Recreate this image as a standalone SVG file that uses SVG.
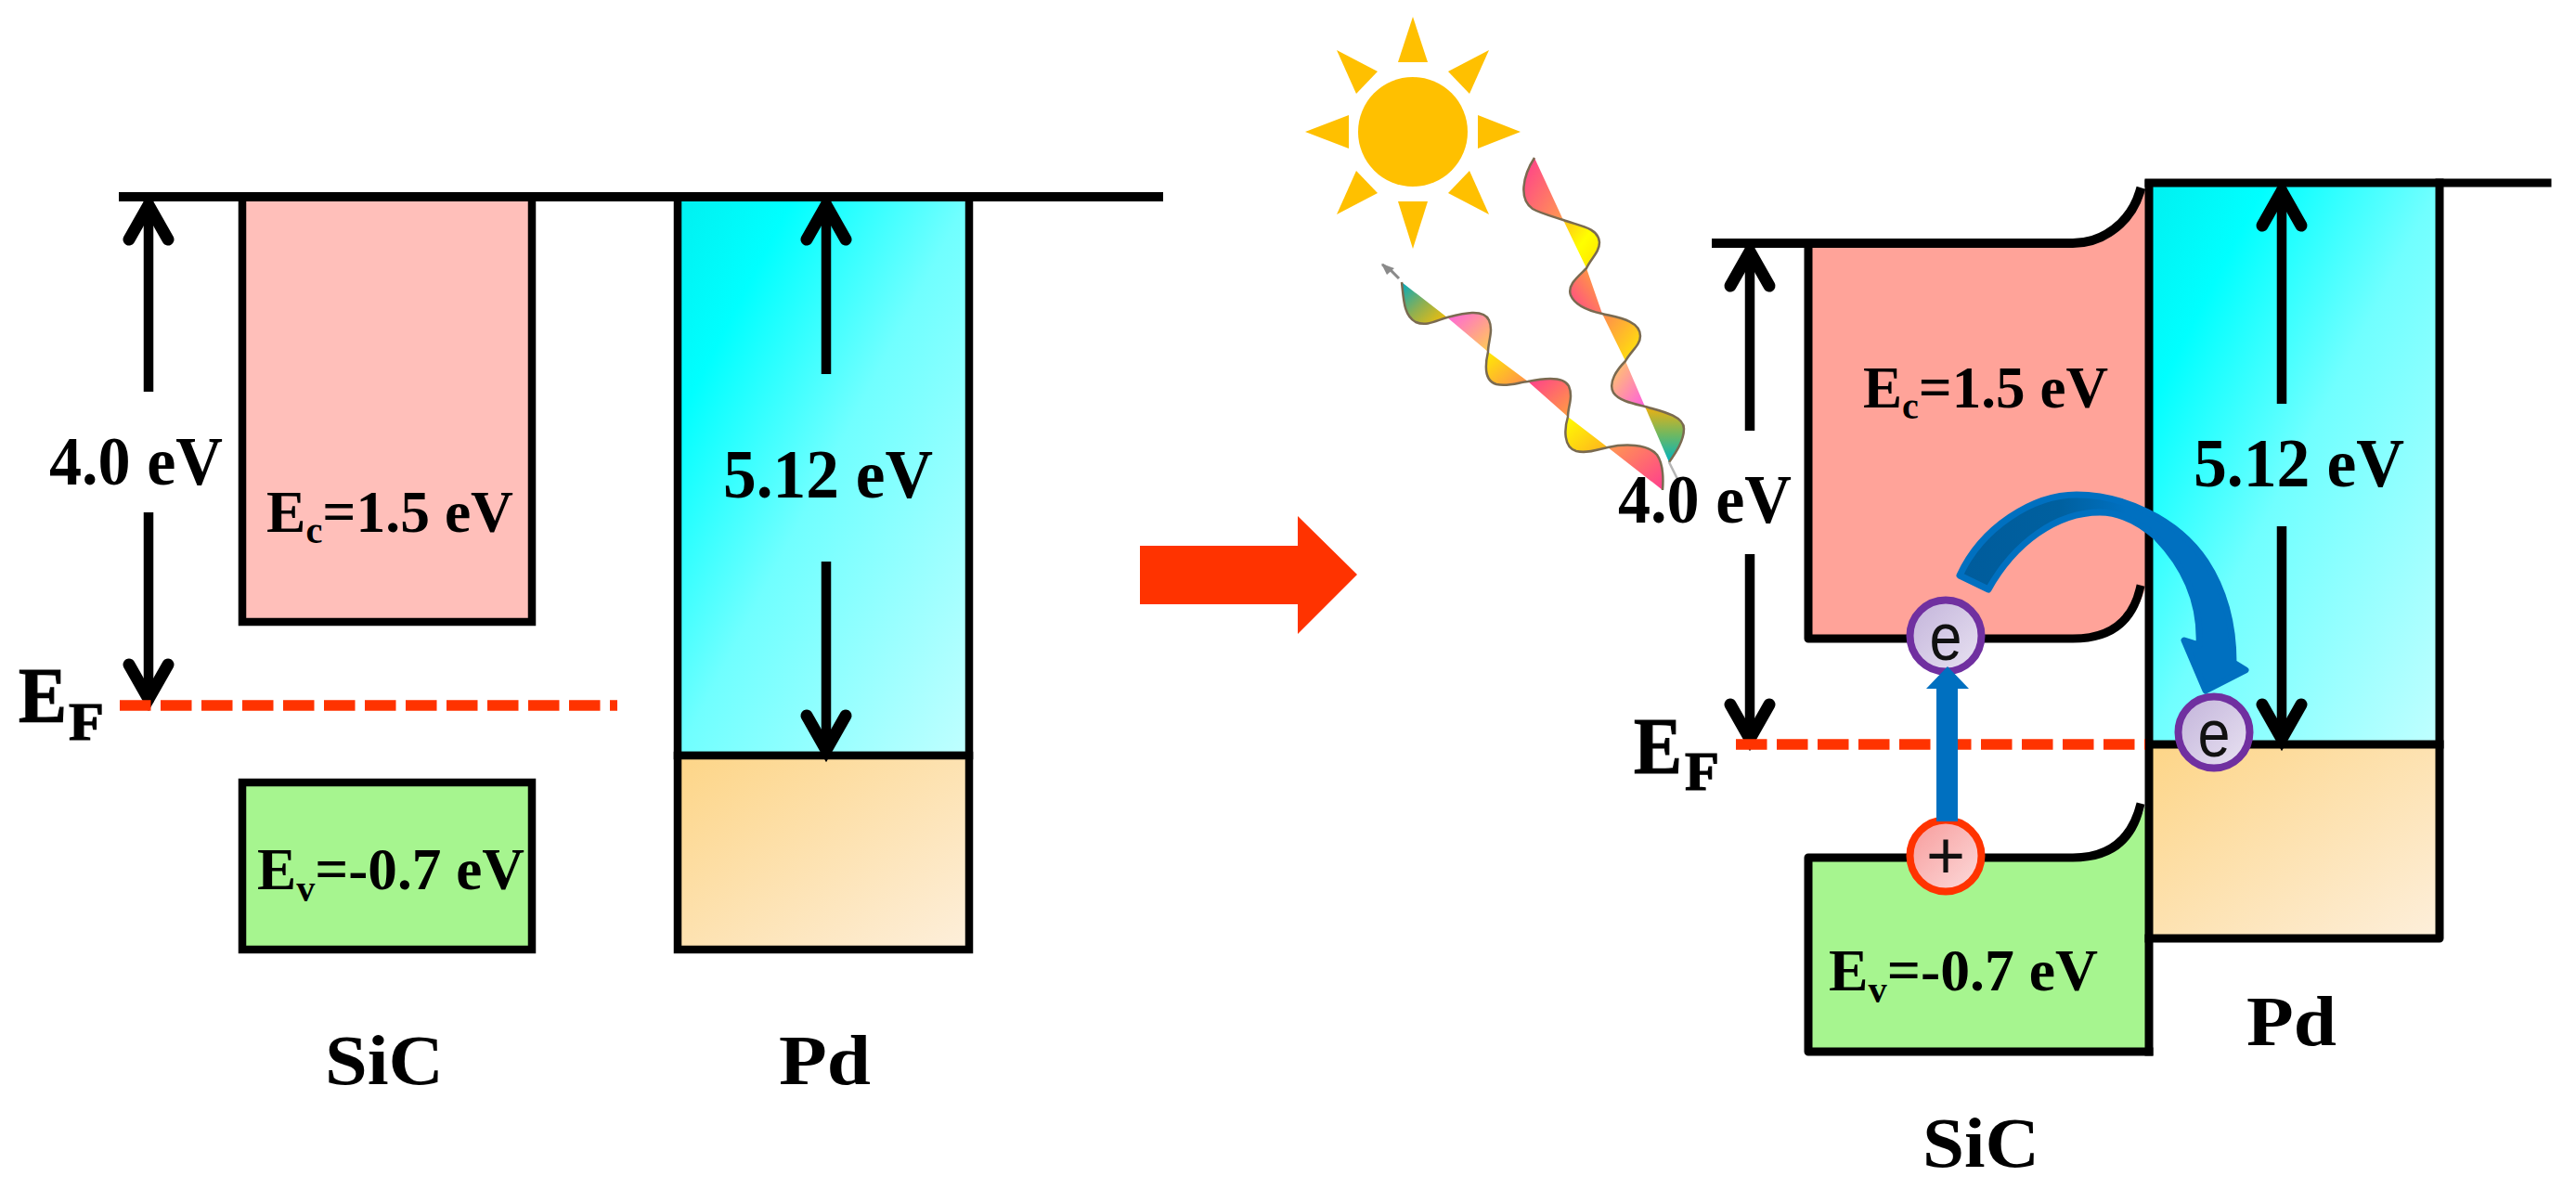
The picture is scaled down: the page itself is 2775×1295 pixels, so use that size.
<svg xmlns="http://www.w3.org/2000/svg" width="2775" height="1295" viewBox="0 0 2775 1295">
<style>
.b{stroke:#000;stroke-width:9;fill:none;stroke-linejoin:round;stroke-linecap:square}
.t{font-family:"Liberation Serif","Times New Roman",serif;font-weight:bold;fill:#000}
.ef{stroke:#000;stroke-width:1.2}
.c{font-family:"Liberation Sans",Arial,sans-serif;font-size:72px;fill:#111;text-anchor:middle}
.arr{stroke:#000;stroke-width:10.5;fill:none;marker-end:url(#v)}
.dash{stroke:#ff3300;stroke-width:11.5;fill:none;stroke-dasharray:33.5 10.5}
.sun{fill:#ffc000}
.ol{fill:none;stroke:#7a6a50;stroke-width:2.5}
</style>
<defs>
<marker id="v" markerUnits="userSpaceOnUse" markerWidth="70" markerHeight="70" viewBox="-50 -35 70 70" refX="0" refY="0" orient="auto">
<path d="M-41,-21 L-4,0 L-41,21" fill="none" stroke="#000" stroke-width="13" stroke-linecap="round" stroke-linejoin="miter"/>
</marker>
<linearGradient id="cy" x1="0" y1="0" x2="1" y2="1"><stop offset="0" stop-color="#00f0f0"/><stop offset=".2" stop-color="#00ffff"/><stop offset=".5" stop-color="#70ffff"/><stop offset="1" stop-color="#c0ffff"/></linearGradient>
<linearGradient id="or" x1="0" y1="0" x2="1" y2="1"><stop offset="0" stop-color="#fdd587"/><stop offset="1" stop-color="#fdefdb"/></linearGradient>
<linearGradient id="ce" x1="0" y1="0" x2="1" y2="1"><stop offset="0" stop-color="#c2b3da"/><stop offset="1" stop-color="#e9e3f2"/></linearGradient>
<linearGradient id="ch" x1="0" y1="0" x2="1" y2="1"><stop offset="0" stop-color="#f79a9a"/><stop offset="1" stop-color="#fcdcdc"/></linearGradient>
<linearGradient id="ba" gradientUnits="userSpaceOnUse" x1="2110" y1="0" x2="2290" y2="0"><stop offset="0" stop-color="#005c9c"/><stop offset=".6" stop-color="#00609f"/><stop offset="1" stop-color="#0070c0"/></linearGradient>
<linearGradient id="g1" x1="0" y1="0" x2="1" y2="1"><stop offset="0" stop-color="#ff3d8e"/><stop offset="1" stop-color="#ff9a50"/></linearGradient>
<linearGradient id="g2" x1="0" y1="0" x2="1" y2="1"><stop offset="0" stop-color="#ffc21a"/><stop offset=".5" stop-color="#ffff00"/><stop offset="1" stop-color="#ffe000"/></linearGradient>
<linearGradient id="g3" x1="1" y1="0" x2="0" y2="1"><stop offset="0" stop-color="#ffb030"/><stop offset="1" stop-color="#ff4090"/></linearGradient>
<linearGradient id="g4" x1="0" y1="0" x2="1" y2="1"><stop offset="0" stop-color="#ff8a50"/><stop offset="1" stop-color="#ffee00"/></linearGradient>
<linearGradient id="g5" x1="0" y1="0" x2="1" y2="1"><stop offset="0" stop-color="#ffd060"/><stop offset="1" stop-color="#ff5ee0"/></linearGradient>
<linearGradient id="g6" x1="0" y1="0" x2="0" y2="1"><stop offset="0" stop-color="#f0b010"/><stop offset=".5" stop-color="#70b860"/><stop offset="1" stop-color="#00b4c0"/></linearGradient>
<linearGradient id="g7" x1="0" y1="0" x2="1" y2="1"><stop offset="0" stop-color="#00aac0"/><stop offset=".5" stop-color="#90b050"/><stop offset="1" stop-color="#ffc000"/></linearGradient>
<linearGradient id="g8" x1="0" y1="0" x2="1" y2="1"><stop offset="0" stop-color="#ff60e0"/><stop offset="1" stop-color="#ffd050"/></linearGradient>
<linearGradient id="g9" x1="0" y1="0" x2="1" y2="1"><stop offset="0" stop-color="#ffee00"/><stop offset="1" stop-color="#ff8a50"/></linearGradient>
<linearGradient id="g10" x1="0" y1="0" x2="1" y2="1"><stop offset="0" stop-color="#ff3d8e"/><stop offset="1" stop-color="#ffa040"/></linearGradient>
<linearGradient id="g11" x1="0" y1="0" x2="1" y2="1"><stop offset="0" stop-color="#ffff00"/><stop offset="1" stop-color="#ffb020"/></linearGradient>
<linearGradient id="g12" x1="0" y1="0" x2="1" y2="1"><stop offset="0" stop-color="#ff9a50"/><stop offset="1" stop-color="#ff3d8e"/></linearGradient>
</defs>
<rect width="2775" height="1295" fill="#fff"/>

<g id="left-sic-conduction"><rect x="261" y="212" width="312" height="458" fill="#ffbfba" stroke="#000" stroke-width="8.5"/></g>
<g id="left-sic-valence"><rect x="261" y="843" width="312" height="180" fill="#a6f58f" stroke="#000" stroke-width="8.5"/></g>
<g id="left-pd">
<rect x="730" y="212" width="314" height="602" fill="url(#cy)" stroke="#000" stroke-width="8.5"/>
<rect x="730" y="814" width="314" height="209" fill="url(#or)" stroke="#000" stroke-width="8.5"/>
</g>
<g id="left-vacuum"><path d="M128,212H1253" stroke="#000" stroke-width="10" fill="none"/></g>

<g id="right-sic-conduction"><path d="M1948,262H2233C2268,262 2296,240 2311,205V633C2302,668 2275,688 2233,688H1948Z" fill="#ffa399"/></g>
<g id="right-sic-valence"><path d="M1948,924H2233C2275,924 2300,903 2311,868V1133H1948Z" fill="#a6f58f"/></g>
<g id="right-pd">
<rect x="2315" y="198" width="313" height="604" fill="url(#cy)"/>
<rect x="2315" y="802" width="313" height="209" fill="url(#or)"/>
</g>
<g id="right-outlines">
<path class="b" style="stroke-width:10" d="M1849,262H2233C2265,262 2295,240 2305,207"/>
<path class="b" d="M1948,262V688H2233C2275,688 2297,668 2305,635"/>
<path class="b" d="M2305,870C2297,903 2275,924 2233,924H1948V1133H2315"/>
<path class="b" d="M2315,198V1133"/>
<path class="b" d="M2315,197H2744"/>
<path class="b" d="M2628,197V1011H2315"/>
<path class="b" d="M2315,802H2628"/>
</g>

<g id="connectors">
<path class="arr" d="M160,422V217"/>
<path class="arr" d="M160,552V757"/>
<path class="arr" d="M890,403V217"/>
<path class="arr" d="M890,605V812"/>
<path class="arr" d="M1885,464V267"/>
<path class="arr" d="M1885,597V800"/>
<path class="arr" d="M2458,435V202"/>
<path class="arr" d="M2458,567V800"/>
<path class="dash" d="M129,760H665"/>
<path class="dash" d="M1870,802H2311"/>
<path id="red-arrow" d="M1228,588H1398V556L1462,619L1398,683V651H1228Z" fill="#ff3300"/>
</g>

<g id="sun" class="sun">
<circle cx="1522" cy="142" r="59"/>
<path d="M1522,18L1538,67H1506Z"/>
<path d="M1522,268L1538,217H1506Z"/>
<path d="M1406,142L1453,124V160Z"/>
<path d="M1638,142L1592,124V160Z"/>
<path d="M1440,54L1484,77L1461,101Z"/>
<path d="M1604,54L1560,77L1583,101Z"/>
<path d="M1440,231L1461,184L1484,208Z"/>
<path d="M1604,231L1583,184L1560,208Z"/>
</g>

<g id="wave-right">
<path fill="url(#g1)" d="M1653,170C1640,190 1636,215 1651,225C1660,230 1672,233 1684,237Z"/>
<path fill="url(#g2)" d="M1684,237C1700,243 1722,245 1723,261C1723,272 1714,278 1709,289Z"/>
<path fill="url(#g3)" d="M1709,289C1700,298 1688,307 1692,318C1697,330 1712,335 1726,338Z"/>
<path fill="url(#g4)" d="M1726,338C1742,342 1767,345 1767,362C1767,372 1757,378 1751,389Z"/>
<path fill="url(#g5)" d="M1751,389C1742,398 1732,412 1738,423C1744,432 1760,435 1772,438Z"/>
<path fill="url(#g6)" d="M1772,438C1790,443 1814,448 1814,462C1814,475 1805,488 1798,498Z"/>
<path class="ol" d="M1653,170C1640,190 1636,215 1651,225C1660,230 1672,233 1684,237C1700,243 1722,245 1723,261C1723,272 1714,278 1709,289C1700,298 1688,307 1692,318C1697,330 1712,335 1726,338C1742,342 1767,345 1767,362C1767,372 1757,378 1751,389C1742,398 1732,412 1738,423C1744,432 1760,435 1772,438C1790,443 1814,448 1814,462C1814,475 1805,488 1798,498"/>
<path d="M1798,498L1807,516" stroke="#b5b5b5" stroke-width="2.5" fill="none"/>
</g>
<g id="wave-left">
<path fill="url(#g7)" d="M1510,304C1512,322 1512,340 1525,347C1537,352 1548,345 1559,342Z"/>
<path fill="url(#g8)" d="M1559,342C1575,338 1598,332 1604,345C1609,356 1603,368 1603,379Z"/>
<path fill="url(#g9)" d="M1603,379C1600,392 1598,410 1612,414C1624,417 1636,412 1646,411Z"/>
<path fill="url(#g10)" d="M1646,411C1660,408 1684,404 1690,416C1695,428 1689,438 1689,449Z"/>
<path fill="url(#g11)" d="M1689,449C1685,462 1684,482 1698,486C1710,489 1722,484 1732,482Z"/>
<path fill="url(#g12)" d="M1732,482C1750,478 1775,478 1785,490C1792,500 1792,515 1791,528Z"/>
<path class="ol" d="M1510,304C1512,322 1512,340 1525,347C1537,352 1548,345 1559,342C1575,338 1598,332 1604,345C1609,356 1603,368 1603,379C1600,392 1598,410 1612,414C1624,417 1636,412 1646,411C1660,408 1684,404 1690,416C1695,428 1689,438 1689,449C1685,462 1684,482 1698,486C1710,489 1722,484 1732,482C1750,478 1775,478 1785,490C1792,500 1792,515 1791,528"/>
<path d="M1489,285L1498,291L1507,300" stroke="#8a8a8a" stroke-width="3" fill="none"/>
<path d="M1488,284L1502,289L1494,296Z" fill="#8a8a8a"/>
</g>

<g id="labels-left" class="t">
<text x="53" y="522" font-size="73" textLength="187" lengthAdjust="spacingAndGlyphs">4.0 eV</text>
<text x="287" y="573" font-size="63" textLength="266" lengthAdjust="spacingAndGlyphs">E<tspan font-size="40" dy="12">c</tspan><tspan dy="-12">=1.5 eV</tspan></text>
<text x="277" y="958" font-size="63" textLength="288" lengthAdjust="spacingAndGlyphs">E<tspan font-size="40" dy="13">v</tspan><tspan dy="-13">=-0.7 eV</tspan></text>
<text x="779" y="536" font-size="73" textLength="226" lengthAdjust="spacingAndGlyphs">5.12 eV</text>
<text class="ef" x="20" y="778" font-size="85" textLength="52" lengthAdjust="spacingAndGlyphs">E</text>
<text class="ef" x="74" y="797" font-size="58" textLength="38" lengthAdjust="spacingAndGlyphs">F</text>
<text x="350" y="1168" font-size="76" textLength="128" lengthAdjust="spacingAndGlyphs">SiC</text>
<text x="839" y="1168" font-size="76" textLength="99" lengthAdjust="spacingAndGlyphs">Pd</text>
</g>
<g id="labels-right" class="t">
<text x="1743" y="563" font-size="73" textLength="187" lengthAdjust="spacingAndGlyphs">4.0 eV</text>
<text x="2007" y="439" font-size="63" textLength="264" lengthAdjust="spacingAndGlyphs">E<tspan font-size="40" dy="12">c</tspan><tspan dy="-12">=1.5 eV</tspan></text>
<text x="1970" y="1067" font-size="63" textLength="290" lengthAdjust="spacingAndGlyphs">E<tspan font-size="40" dy="13">v</tspan><tspan dy="-13">=-0.7 eV</tspan></text>
<text x="2363" y="524" font-size="73" textLength="227" lengthAdjust="spacingAndGlyphs">5.12 eV</text>
<text class="ef" x="1760" y="833" font-size="87" textLength="52" lengthAdjust="spacingAndGlyphs">E</text>
<text class="ef" x="1815" y="851" font-size="59" textLength="37" lengthAdjust="spacingAndGlyphs">F</text>
<text x="2071" y="1257" font-size="76" textLength="126" lengthAdjust="spacingAndGlyphs">SiC</text>
<text x="2420" y="1126" font-size="76" textLength="97" lengthAdjust="spacingAndGlyphs">Pd</text>
</g>

<g id="electron-top"><circle cx="2096" cy="685" r="38.5" fill="url(#ce)" stroke="#7030a0" stroke-width="8"/><text class="c" x="2096" y="711" textLength="35" lengthAdjust="spacingAndGlyphs">e</text></g>
<g id="hole"><circle cx="2096" cy="922" r="38.5" fill="url(#ch)" stroke="#ff3300" stroke-width="8"/><text class="c" x="2096" y="946">+</text></g>
<g id="electron-pd"><circle cx="2385" cy="789" r="38.5" fill="url(#ce)" stroke="#7030a0" stroke-width="8"/><text class="c" x="2385" y="815" textLength="35" lengthAdjust="spacingAndGlyphs">e</text></g>

<g id="transfer-arrows">
<path d="M2086,885V742H2075L2098,718L2121,742H2109V885Z" fill="#0070c0"/>
<path d="M2111,620C2135,568 2190,533 2237,533C2285,533 2345,558 2376,605C2395,634 2406,670 2406,714L2419,722L2376,744L2353,690L2369,695C2371,650 2355,612 2323,579C2305,563 2285,552 2262,552C2215,552 2170,585 2142,635Z" fill="url(#ba)" stroke="#0070c0" stroke-width="7" stroke-linejoin="round"/>
</g>
</svg>
